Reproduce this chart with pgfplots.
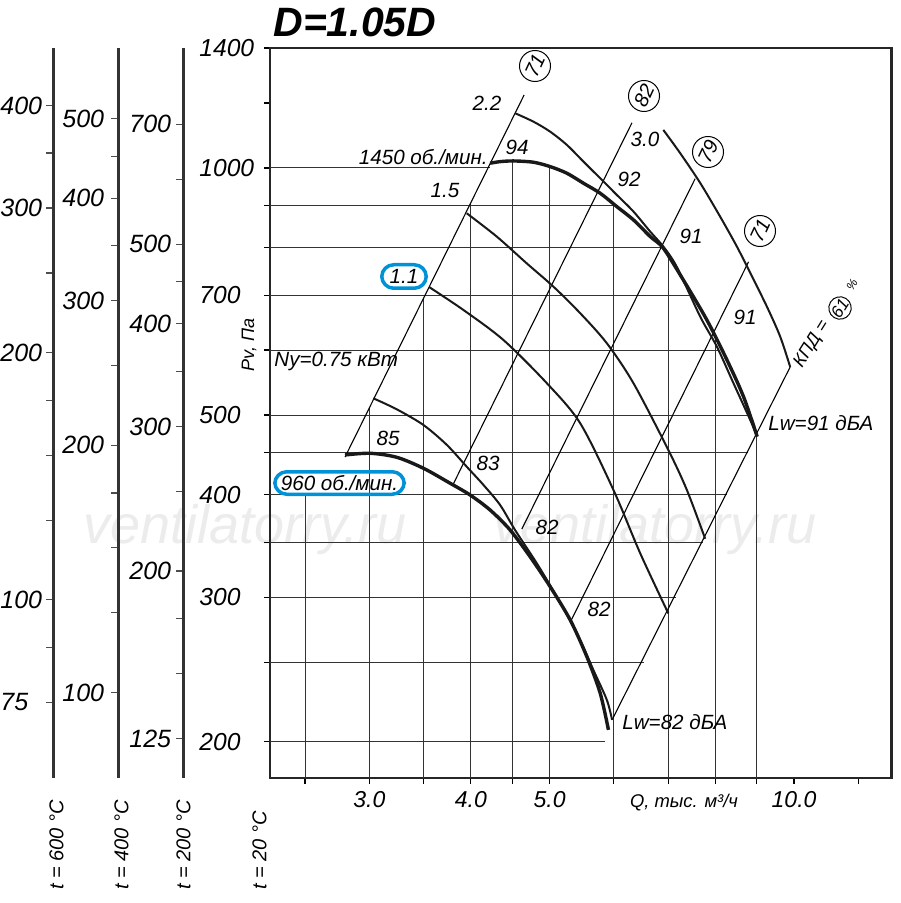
\documentclass[border=0pt]{standalone}
\usepackage{fontspec}
\setmainfont{Liberation Sans}
\usepackage{pgfplots}
\pgfplotsset{compat=1.18}
\definecolor{boxblue}{RGB}{0,146,214}
\tikzset{
 gline/.style={line width=0.55pt, black!80, mark=none},
 ray/.style={line width=0.55pt, black, mark=none},
 fan/.style={line width=1.7pt, black!90, smooth, mark=none},
 pow/.style={line width=1.0pt, black!90, smooth, mark=none},
 lab/.style={font=\fontsize{10.3}{11}\selectfont\itshape, inner sep=0pt},
 circ/.style={circle, draw, line width=0.5pt, minimum size=15.5pt, inner sep=0pt, font=\fontsize{10}{10}\selectfont\itshape, rotate=65},
 tlab/.style={rotate=90, anchor=west, inner sep=0pt, font=\fontsize{10}{10}\selectfont\itshape},
}
\begin{document}
\begin{tikzpicture}[x=0.5pt,y=-0.5pt]
\path[use as bounding box] (0,0) rectangle (900,903);
% watermark
\node[text=gray!15, font=\fontsize{27}{28}\selectfont\itshape] at (245,530) {ventilatorry.ru};
\node[text=gray!15, font=\fontsize{27}{28}\selectfont\itshape] at (655,530) {ventilatorry.ru};

% auxiliary temperature scales
\begin{axis}[at={(26.5pt,-389pt)}, anchor=south west, scale only axis, width=1pt, height=365pt,
  ymode=log, xmin=0, xmax=1, ymin=60.65, ymax=469.9,
  axis x line=none, axis y line=left,
  y axis line style={-, line width=1.5pt, black!80},
  tick align=outside, major tick length=3.5pt, yminorticks=false,
  ytick style={line width=0.6pt, black!70},
  ytick={75,87.5,100,125,150,175,200,250,300,350,400},
  yticklabels={75,,100,,,,200,,300,,400},
  yticklabel style={anchor=west, inner sep=0pt, xshift=-23pt, font=\fontsize{12.5}{13}\selectfont\itshape}]
\end{axis}
\begin{axis}[at={(59pt,-389pt)}, anchor=south west, scale only axis, width=1pt, height=365pt,
  ymode=log, xmin=0, xmax=1, ymin=78.67, ymax=609.5,
  axis x line=none, axis y line=left,
  y axis line style={-, line width=1.5pt, black!80},
  tick align=outside, major tick length=3.5pt, yminorticks=false,
  ytick style={line width=0.6pt, black!70},
  ytick={100,125,150,175,200,250,300,350,400,450,500},
  yticklabels={100,,,,200,,300,,400,,500},
  yticklabel style={anchor=west, inner sep=0pt, xshift=-24.5pt, font=\fontsize{12.5}{13}\selectfont\itshape}]
\end{axis}
\begin{axis}[at={(91.5pt,-389pt)}, anchor=south west, scale only axis, width=1pt, height=365pt,
  ymode=log, xmin=0, xmax=1, ymin=111.93, ymax=867.2,
  axis x line=none, axis y line=left,
  y axis line style={-, line width=1.5pt, black!80},
  tick align=outside, major tick length=3.5pt, yminorticks=false,
  ytick style={line width=0.6pt, black!70},
  ytick={125,150,175,200,250,300,350,400,450,500,600,700},
  yticklabels={125,,,200,,300,,400,,500,,700},
  yticklabel style={anchor=west, inner sep=0pt, xshift=-23.5pt, font=\fontsize{12.5}{13}\selectfont\itshape}]
\end{axis}

% main chart
\begin{axis}[at={(135pt,-389pt)}, anchor=south west, scale only axis,
  width=310.85pt, height=365pt,
  xmode=log, ymode=log, xmin=2.2636, xmax=13.19, ymin=180.7, ymax=1400,
  axis line style={line width=1.4pt, black!85},
  tick pos=left, tick align=outside, major tick length=3pt,
  xminorticks=false, yminorticks=false,
  tick style={line width=0.6pt, black},
  xtick={2.5,3,3.5,4,4.5,5,6,7,8,9,10,12},
  xticklabels={,3.0,,4.0,,5.0,,,,,10.0,},
  ytick={200,250,300,350,400,450,500,600,700,800,900,1000,1200,1400},
  yticklabels={200,,300,,400,,500,,700,,,1000,,1400},
  xticklabel style={anchor=base, inner sep=0pt, yshift=-12pt, font=\fontsize{11.5}{12}\selectfont\itshape},
  yticklabel style={anchor=west, inner sep=0pt, xshift=-32.5pt, font=\fontsize{12.3}{13}\selectfont\itshape},
]
% horizontal grid lines
\addplot[gline] coordinates {(2.2636,1000) (4.224,1000)};
\addplot[gline] coordinates {(2.2636,900) (6.03,900)};
\addplot[gline] coordinates {(2.2636,800) (6.85,800)};
\addplot[gline] coordinates {(2.2636,700) (7.5,700)};
\addplot[gline] coordinates {(2.2636,600) (8.05,600)};
\addplot[gline] coordinates {(2.2636,500) (8.8,500)};
\addplot[gline] coordinates {(2.2636,450) (8.77,450)};
\addplot[gline] coordinates {(2.2636,400) (8.27,400)};
\addplot[gline] coordinates {(2.2636,350) (7.735,350)};
\addplot[gline] coordinates {(2.2636,300) (7.161,300)};
\addplot[gline] coordinates {(2.2636,250) (6.537,250)};
\addplot[gline] coordinates {(2.2636,200) (5.85,200)};
% vertical grid lines
\addplot[gline] coordinates {(2.5,180.7) (2.5,400)};
\addplot[gline] coordinates {(3.0,180.7) (3.0,510.3)};
\addplot[gline] coordinates {(3.5,180.7) (3.5,694.6)};
\addplot[gline] coordinates {(4.0,180.7) (4.0,907)};
\addplot[gline] coordinates {(4.5,180.7) (4.5,1019.6)};
\addplot[gline] coordinates {(5.0,180.7) (5.0,1004)};
\addplot[gline] coordinates {(6.0,180.7) (6.0,903)};
\addplot[gline] coordinates {(7.0,180.7) (7.0,778)};
\addplot[gline] coordinates {(8.0,180.7) (8.0,624)};
\addplot[gline] coordinates {(9.0,180.7) (9.0,470.8)};
% efficiency rays
\addplot[ray] coordinates {(2.800,444.5) (4.652,1227)};
\addplot[ray] coordinates {(3.807,412.3) (6.316,1134.9)};
\addplot[ray] coordinates {(4.622,363.2) (7.556,970.5)};
\addplot[ray] coordinates {(5.302,279.7) (8.789,768.6)};
\addplot[ray] coordinates {(5.97,212.7) (9.891,572.3)};
% power curves
\addplot[pow] coordinates {(3.034,524.1) (3.242,508.2) (3.497,486.3) (3.737,459.9) (3.954,432.6) (4.145,411.1) (4.346,388.6) (4.534,362.3) (4.823,329.9) (5.104,300.4) (5.403,271.2) (5.662,244.6) (5.882,224.9) (5.97,212.7)};
\addplot[pow] coordinates {(3.554,716.1) (3.916,671.6) (4.387,617.2) (4.963,546.6) (5.454,488.7) (5.993,405.3) (6.466,339.3) (7.002,286.7)};
\addplot[pow] coordinates {(3.954,880.6) (4.305,824.9) (4.687,765.3) (5.056,716.7) (5.454,665.4) (5.882,611.6) (6.344,546.6) (7.002,453.4) (7.380,405.3) (7.773,353.5)};
\addplot[pow] coordinates {(4.534,1165.9) (4.777,1138.5) (5.009,1107.1) (5.252,1066.6) (5.505,1017.8) (5.772,971.5) (6.051,927.1) (6.344,884.7) (6.652,836.4) (6.903,802.1) (7.171,758.2) (7.664,659.1) (8.035,605.8) (8.423,546.6) (8.831,493.2) (9.007,470.8)};
\addplot[pow] coordinates {(6.903,1112.5) (7.238,1043.0) (7.664,958.8) (8.110,872.3) (8.504,802.1) (8.831,745.1) (9.259,677.8) (9.615,623.0) (9.891,572.3)};
% fan curves
\addplot[fan] coordinates {(2.800,447.1) (3.006,449.2) (3.242,444.2) (3.497,430.7) (3.772,413.0) (3.992,399.7) (4.224,383.2) (4.471,362.3) (4.732,336.1) (5.009,309.0) (5.302,281.4) (5.558,253.9) (5.772,229.2) (5.909,206.8)};
\addplot[fan] coordinates {(4.224,1013.3) (4.346,1017.8) (4.513,1019.8) (4.777,1016.1) (5.009,1003.7) (5.252,985.2) (5.505,958.0) (5.772,931.5) (6.051,897.2) (6.344,864.3) (6.652,824.9) (6.903,798.5) (7.307,730.4) (7.811,653.0) (8.267,583.7) (8.665,526.5) (9.007,470.8)};
\end{axis}

% title and axis texts
\node[font=\fontsize{20.5}{21}\selectfont\bfseries\itshape, anchor=base west, inner sep=0pt] at (273,37) {D=1.05D};
\node[lab, rotate=90, font=\fontsize{9}{9}\selectfont\itshape] at (249,345) {Pv, Па};
\node[lab, font=\fontsize{9.2}{10}\selectfont\itshape] at (684,803) {Q, тыс. м³/ч};
\node[tlab] at (56.5,890) {t = 600 °C};
\node[tlab] at (121.5,890) {t = 400 °C};
\node[tlab] at (183.5,890) {t = 200 °C};
\node[tlab] at (259.5,890) {t = 20 °C};

% curve labels
\node[lab] at (487,103) {2.2};
\node[lab] at (445,191) {1.5};
\node[lab] at (645,139) {3.0};
\node[lab] at (517,147) {94};
\node[lab] at (629,179) {92};
\node[lab] at (691,236) {91};
\node[lab] at (745,317) {91};
\node[lab] at (388,438) {85};
\node[lab] at (488,463) {83};
\node[lab] at (547,527) {82};
\node[lab] at (599,609) {82};
\node[lab, anchor=east] at (488,157) {1450 об./мин.};
\node[lab, anchor=west] at (274,361) {Ny=0.75 кВт};
\node[lab, anchor=west] at (768,423) {Lw=91 дБА};
\node[lab, anchor=west] at (622,722) {Lw=82 дБА};
\node[lab, draw=boxblue, line width=1.75pt, rounded corners=6pt, minimum width=64.75pt, minimum height=11.25pt] at (339.5,483) {960 об./мин.};
\node[lab, draw=boxblue, line width=1.75pt, rounded corners=6pt, minimum width=22.25pt, minimum height=11.75pt] at (404,276.5) {1.1};

% efficiency circles
\node[circ] at (535,66) {71};
\node[circ] at (644,96) {82};
\node[circ] at (708,152) {79};
\node[circ] at (760,231) {71};
\node[lab, rotate=58, font=\fontsize{9}{9}\selectfont\itshape] at (812,344) {КПД =};
\node[circ, minimum size=11pt, font=\fontsize{8.5}{9}\selectfont\itshape, rotate=-7] at (840,308) {61};
\node[lab, rotate=58, font=\fontsize{6}{6}\selectfont\itshape] at (852,285) {\%};
\end{tikzpicture}
\end{document}
